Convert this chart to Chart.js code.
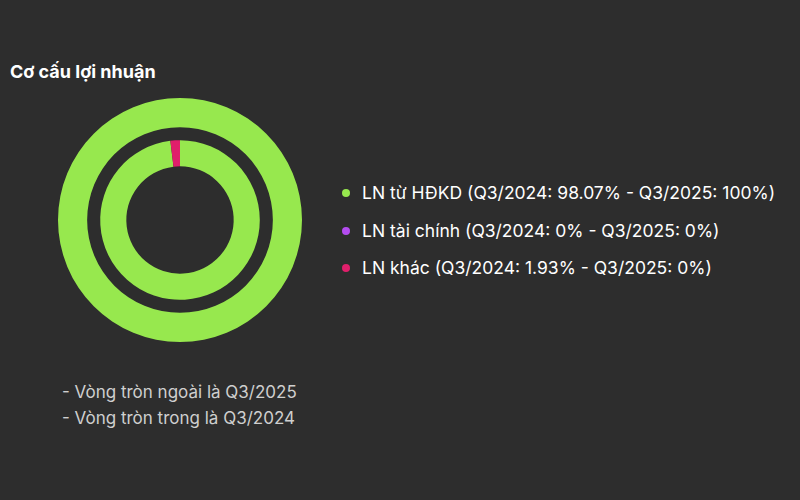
<!DOCTYPE html>
<html><head><meta charset="utf-8">
<script src="https://cdn.jsdelivr.net/npm/chart.js@4"></script>
<style>
body{margin:0;width:800px;height:500px;background:#2d2d2d;font-family:Inter,"Noto Sans",sans-serif;position:relative;overflow:hidden}
#t{position:absolute;left:10px;top:61px;color:#fff;font-weight:700;font-size:18px}
#c{position:absolute;left:55px;top:95px;width:250px;height:250px}
#lg{position:absolute;left:342px;top:182px;color:#fff;font-size:17.5px}
#lg div{height:37.5px;display:flex;align-items:flex-start}
#lg span{display:inline-block;width:8px;height:8px;border-radius:50%;margin:7px 12px 0 0}
#n{position:absolute;left:62px;top:379px;color:#cfcfcf;font-size:17px;line-height:26px}
</style></head><body>
<div id="t">Cơ cấu lợi nhuận</div>
<div id="c"><canvas id="cv" width="250" height="250"></canvas></div>
<div id="lg"></div>
<div id="n">- Vòng tròn ngoài là Q3/2025<br>- Vòng tròn trong là Q3/2024</div>
<script>
const categories=["LN từ HĐKD","LN tài chính","LN khác"];
const colors=["#97e84e","#b44cf0","#e01f6b"];
const q2024=[98.07,0,1.93];
const q2025=[100,0,0];
const lg=document.getElementById('lg');
categories.forEach((c,i)=>{const d=document.createElement('div');
d.innerHTML='<span style="background:'+colors[i]+'"></span>'+c+' (Q3/2024: '+q2024[i]+'% - Q3/2025: '+q2025[i]+'%)';lg.appendChild(d);});
new Chart(document.getElementById('cv'),{type:'doughnut',
data:{labels:categories,datasets:[
{data:q2025,backgroundColor:colors,borderWidth:0,weight:29},
{data:[1],backgroundColor:'rgba(0,0,0,0)',borderWidth:0,weight:13},
{data:q2024,backgroundColor:colors,borderWidth:0,weight:26}]},
options:{responsive:false,animation:false,cutout:'44%',layout:{padding:3},
plugins:{legend:{display:false},tooltip:{enabled:false}}}});
</script></body></html>
